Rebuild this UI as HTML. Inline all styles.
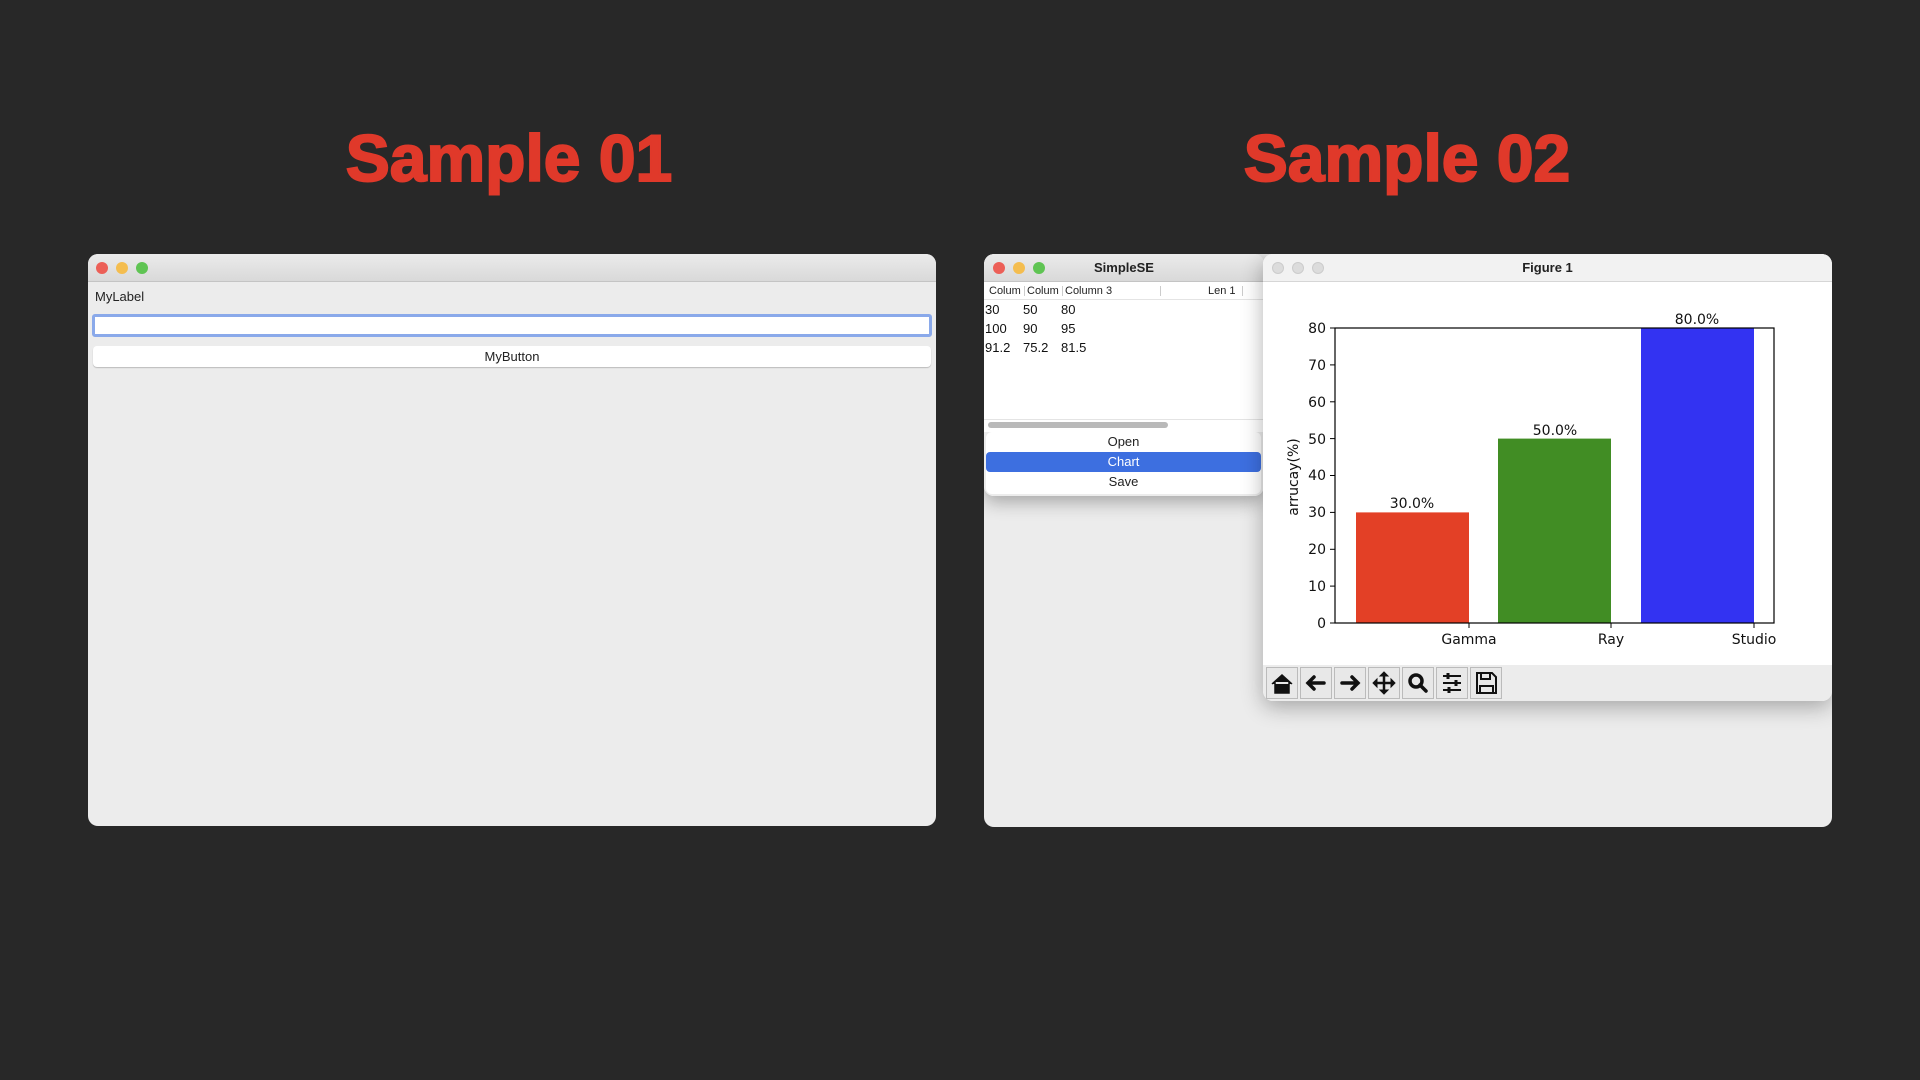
<!DOCTYPE html>
<html><head><meta charset="utf-8"><style>
*{margin:0;padding:0;box-sizing:border-box}
body{width:1920px;height:1080px;background:#282828;position:relative;overflow:hidden;font-family:"Liberation Sans",sans-serif}
.title{position:absolute;top:120px;width:600px;text-align:center;color:#e0392a;font-weight:bold;font-size:66px;-webkit-text-stroke:2px #e0392a}
.win{position:absolute;background:#ececec;border-radius:10px;overflow:hidden}
.tb{position:absolute;left:0;right:0;top:0;height:28px;background:linear-gradient(#ebebeb,#d9d9d9);border-bottom:1px solid #c4c4c4}
.l{position:absolute;top:8px;width:12px;height:12px;border-radius:50%}
.abs{position:absolute}
</style></head><body>
<div class="title" style="left:209px">Sample 01</div>
<div class="title" style="left:1107px">Sample 02</div>

<div class="win" style="left:88px;top:254px;width:848px;height:572px">
 <div class="tb"></div>
 <div class="l" style="left:8px;background:#ec5f57"></div>
 <div class="l" style="left:28px;background:#f4bd4f"></div>
 <div class="l" style="left:48px;background:#5fc453"></div>
 <div class="abs" style="left:7px;top:35px;font-size:13px;color:#222">MyLabel</div>
 <div class="abs" style="left:4px;top:60px;width:840px;height:23px;background:#fff;border:3px solid #8aa9ea;border-radius:3px"></div>
 <div class="abs" style="left:5px;top:92px;width:838px;height:21px;background:#fff;border-radius:4px;box-shadow:0 1px 1px #bbb;text-align:center;font-size:13px;line-height:21px;color:#222">MyButton</div>
</div>

<div class="win" style="left:984px;top:254px;width:848px;height:573px">
 <div class="abs" style="left:0;top:0;width:280px;height:242px;background:#fff;border-radius:10px;overflow:hidden;box-shadow:0 6px 18px rgba(0,0,0,.3)">
  <div class="tb"></div>
  <div class="l" style="left:9px;background:#ec5f57"></div>
  <div class="l" style="left:29px;background:#f4bd4f"></div>
  <div class="l" style="left:49px;background:#5fc453"></div>
  <div class="abs" style="left:0;width:280px;top:6px;text-align:center;font-size:13px;font-weight:bold;color:#222">SimpleSE</div>
  <div class="abs" style="left:0;top:29px;width:280px;height:17px;border-bottom:1px solid #e4e4e4;font-size:11px;color:#222;line-height:16px">
   <span class="abs" style="left:5px">Colum</span><span class="abs" style="left:43px">Colum</span><span class="abs" style="left:81px">Column 3</span><span class="abs" style="left:224px">Len 1</span>
   <span class="abs" style="left:40px;top:3px;width:1px;height:10px;background:#ccc"></span><span class="abs" style="left:78px;top:3px;width:1px;height:10px;background:#ccc"></span><span class="abs" style="left:176px;top:3px;width:1px;height:10px;background:#ccc"></span><span class="abs" style="left:258px;top:3px;width:1px;height:10px;background:#ccc"></span>
  </div>
  <div class="abs" style="left:1px;top:46px;font-size:13px;color:#111;line-height:19px">
   <div><span style="display:inline-block;width:38px">30</span><span style="display:inline-block;width:38px">50</span>80</div>
   <div><span style="display:inline-block;width:38px">100</span><span style="display:inline-block;width:38px">90</span>95</div>
   <div><span style="display:inline-block;width:38px">91.2</span><span style="display:inline-block;width:38px">75.2</span>81.5</div>
  </div>
  <div class="abs" style="left:0;top:165px;width:280px;height:1px;background:#e4e4e4"></div>
  <div class="abs" style="left:4px;top:168px;width:180px;height:6px;border-radius:3px;background:#b9b9b9"></div>
  <div class="abs" style="left:0;top:178px;width:280px;height:64px;background:#ececec"></div>
  <div class="abs" style="left:2px;top:178px;width:275px;height:62px;background:#fff;border-radius:6px;font-size:13px;color:#222;text-align:center;line-height:20px">
   <div>Open</div><div style="background:#3d6fe0;color:#fff;border-radius:4px">Chart</div><div>Save</div>
  </div>
 </div>
 <div class="abs" style="left:279px;top:0;width:569px;height:447px;background:#fff;border-radius:10px;overflow:hidden;box-shadow:0 6px 22px rgba(0,0,0,.3)">
  <div class="tb" style="background:#f2f2f2;border-bottom:1px solid #d6d6d6"></div>
  <div class="l" style="left:9px;background:#dcdcdc;border:1px solid #ccc"></div>
  <div class="l" style="left:29px;background:#dcdcdc;border:1px solid #ccc"></div>
  <div class="l" style="left:49px;background:#dcdcdc;border:1px solid #ccc"></div>
  <div class="abs" style="left:0;width:569px;top:6px;text-align:center;font-size:13px;font-weight:bold;color:#222">Figure 1</div>
  <div class="abs" style="left:0;top:411px;width:569px;height:36px;background:#ececec"></div>
 </div>
</div>

<svg class="abs" style="left:0;top:0" width="1920" height="1080" font-family="DejaVu Sans, sans-serif" font-size="14" fill="#111">
 <rect x="1356" y="512.4" width="113" height="110.6" fill="#e34026"/>
 <rect x="1498" y="438.6" width="113" height="184.4" fill="#418d24"/>
 <rect x="1641" y="328" width="113" height="295" fill="#3333f2"/>
 <rect x="1335" y="328" width="439" height="295" fill="none" stroke="#000" stroke-width="1.2"/>
 <g stroke="#000" stroke-width="1">
  <line x1="1330" x2="1335" y1="623" y2="623"/><line x1="1330" x2="1335" y1="586.1" y2="586.1"/><line x1="1330" x2="1335" y1="549.3" y2="549.3"/><line x1="1330" x2="1335" y1="512.4" y2="512.4"/><line x1="1330" x2="1335" y1="475.5" y2="475.5"/><line x1="1330" x2="1335" y1="438.6" y2="438.6"/><line x1="1330" x2="1335" y1="401.8" y2="401.8"/><line x1="1330" x2="1335" y1="364.9" y2="364.9"/><line x1="1330" x2="1335" y1="328" y2="328"/>
  <line x1="1469" x2="1469" y1="623" y2="628"/><line x1="1611" x2="1611" y1="623" y2="628"/><line x1="1754" x2="1754" y1="623" y2="628"/>
 </g>
 <g text-anchor="end">
  <text x="1326" y="628">0</text><text x="1326" y="591">10</text><text x="1326" y="554">20</text><text x="1326" y="517">30</text><text x="1326" y="480">40</text><text x="1326" y="444">50</text><text x="1326" y="407">60</text><text x="1326" y="370">70</text><text x="1326" y="333">80</text>
 </g>
 <g text-anchor="middle">
  <text x="1469" y="644">Gamma</text><text x="1611" y="644">Ray</text><text x="1754" y="644">Studio</text>
  <text x="1412" y="508">30.0%</text><text x="1555" y="435">50.0%</text><text x="1697" y="324">80.0%</text>
  <text transform="translate(1298,477) rotate(-90)">arrucay(%)</text>
 </g>
 <g fill="#e8e8e8" stroke="#bbb">
  <rect x="1266.5" y="667.5" width="31" height="31"/><rect x="1300.5" y="667.5" width="31" height="31"/><rect x="1334.5" y="667.5" width="31" height="31"/><rect x="1368.5" y="667.5" width="31" height="31"/><rect x="1402.5" y="667.5" width="31" height="31"/><rect x="1436.5" y="667.5" width="31" height="31"/><rect x="1470.5" y="667.5" width="31" height="31"/>
 </g>
 <g fill="#111" stroke="#111" stroke-width="3.5">
  <path d="M1272 684 L1282 675 L1292 684 M1275 682 V693 H1289 V682" fill="#111" stroke-width="1.5"/>
  <path d="M1324 683 H1308 M1314 677 L1308 683 L1314 689" fill="none" stroke-linecap="round"/>
  <path d="M1342 683 H1358 M1352 677 L1358 683 L1352 689" fill="none" stroke-linecap="round"/>
  <path d="M1384 673 V693 M1374 683 H1394" fill="none" stroke-width="2.5"/>
  <path d="M1380 676 L1384 672 L1388 676 Z M1380 690 L1384 694 L1388 690 Z M1377 679 L1373 683 L1377 687 Z M1391 679 L1395 683 L1391 687 Z" stroke-width="1"/>
  <circle cx="1416" cy="681" r="6" fill="none"/><path d="M1420 685 L1426 691" stroke-linecap="round"/>
  <path d="M1443 676 H1461 M1443 683 H1461 M1443 690 H1461" stroke-width="2"/>
  <path d="M1448 673 V679 M1456 680 V686 M1449 687 V693" stroke-width="3"/>
  <path d="M1477 673 H1492 L1496 677 V693 H1477 Z M1481 673 V679 H1490 V673 M1480 693 V686 H1493 V693" fill="none" stroke-width="2"/>
 </g>
</svg>
</body></html>
